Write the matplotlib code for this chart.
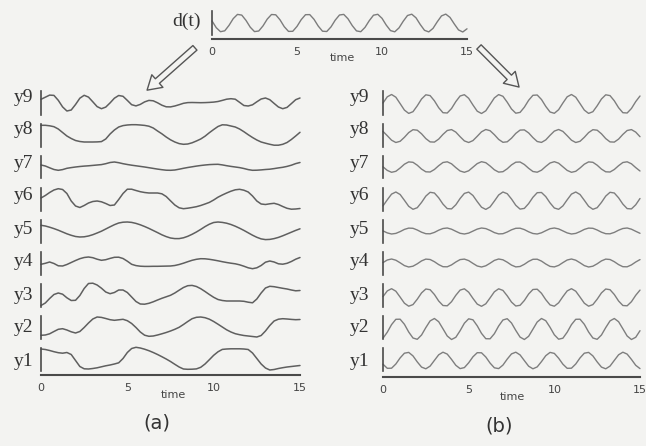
import numpy as np
import matplotlib
matplotlib.use("Agg")
import matplotlib.pyplot as plt
from matplotlib.patches import FancyArrowPatch

# ---------------- data (in pixel-sized units) ----------------
time_step = 0.25
time_ticks = [0, 5, 10, 15]
time_tick_labels = ["0", "5", "10", "15"]
row_names = ["y9", "y8", "y7", "y6", "y5", "y4", "y3", "y2", "y1"]
panel_titles = ["(a)", "(b)"]

d_t = [2.1, -4.7, -8.7, -7.8, -2.4, 4.4, 8.6, 7.9, 2.6, -4.2,
       -8.6, -8.0, -2.9, 3.9, 8.5, 8.2, 3.2, -3.7, -8.4, -8.3,
       -3.4, 3.4, 8.3, 8.4, 3.7, -3.1, -8.2, -8.5, -3.9, 2.9,
       8.0, 8.6, 4.2, -2.6, -7.9, -8.7, -4.4, 2.3, 7.8, 8.7,
       4.7, -2.1, -7.6, -8.8, -4.9, 1.8, 7.5, 8.8, 5.2, -1.5,
       -7.3, -8.9, -5.4, 1.2, 7.1, 8.9, 5.6, -0.9, -6.9, -9.0, -5.8]

# panel (a)
a_y9 = [3.7, 5.8, 7.9, 7.6, 2.7, -3.9, -8.0, -7.0, -1.5, 4.8,
        7.7, 5.9, 1.2, -3.6, -5.7, -4.1, 0.1, 4.8, 7.5, 6.7,
        2.6, -1.7, -2.9, -1.4, 1.1, 2.6, 2.2, 0.2, -2.2, -3.8,
        -3.9, -3.0, -1.7, -0.3, 0.4, 0.5, 0.4, 0.3, 0.4, 0.6,
        0.9, 1.5, 2.6, 3.8, 4.3, 3.8, 0.7, -2.5, -3.0, -1.8,
        1.2, 4.0, 5.0, 3.3, -0.4, -4.0, -5.7, -4.4, -0.6, 3.3, 5.0]
a_y8 = [9.7, 9.7, 9.2, 8.3, 6.0, 2.5, -1.0, -3.5, -5.5, -6.5,
        -7.0, -7.0, -7.0, -6.9, -6.6, -4.0, 1.0, 5.0, 8.0, 9.4,
        10.0, 10.3, 10.3, 10.0, 9.6, 8.8, 7.0, 4.0, 1.2, -2.0,
        -4.8, -7.0, -8.6, -9.3, -9.0, -7.8, -6.0, -4.0, -1.2, 2.3,
        5.5, 8.5, 10.2, 10.0, 9.0, 8.0, 6.0, 3.3, 0.3, -2.5,
        -5.0, -7.0, -8.2, -9.3, -10.2, -10.2, -9.3, -7.5, -4.5, -1.0, 2.7]
a_y7 = [2.0, 1.0, -0.8, -2.5, -3.3, -2.6, -1.3, -0.6, 0.0, 0.5,
        0.9, 1.2, 1.6, 2.0, 2.4, 3.3, 4.5, 5.0, 4.3, 3.3,
        2.5, 1.8, 1.2, 0.6, 0.0, -0.7, -1.4, -2.1, -2.7, -3.2,
        -3.3, -3.0, -2.2, -1.3, -0.5, 0.2, 0.9, 1.5, 2.0, 2.4,
        2.6, 2.7, 2.1, 1.3, 0.6, 0.0, -0.6, -1.5, -2.6, -3.3,
        -3.2, -2.9, -2.5, -2.2, -1.6, -0.9, -0.3, 0.6, 1.8, 3.4, 4.5]
a_y6 = [1.0, 3.5, 6.5, 9.0, 10.3, 9.5, 5.5, -2.0, -7.0, -8.5,
        -6.5, -4.0, -2.5, -2.0, -2.8, -4.5, -6.5, -6.0, -0.5, 5.5,
        9.8, 9.8, 8.5, 7.3, 6.5, 6.0, 6.0, 6.0, 5.2, 2.5,
        -1.8, -6.0, -8.8, -9.7, -9.2, -8.5, -7.7, -6.5, -5.0, -3.4,
        -1.0, 1.8, 4.0, 6.0, 7.8, 9.2, 9.7, 8.8, 7.0, 3.0,
        -2.0, -5.0, -5.5, -4.8, -4.3, -5.5, -7.5, -9.3, -10.2, -10.0, -9.5]
a_y5 = [5.7, 5.0, 3.8, 2.4, 0.8, -1.0, -2.8, -4.3, -5.5, -6.0,
        -5.8, -5.0, -3.7, -2.0, -0.2, 2.0, 4.2, 6.3, 8.0, 8.8,
        9.0, 8.6, 7.6, 6.2, 4.5, 2.6, 0.5, -1.6, -3.8, -5.6,
        -7.0, -7.6, -7.6, -6.8, -5.3, -3.3, -1.0, 1.6, 4.4, 6.8,
        8.5, 9.0, 8.6, 7.8, 6.5, 4.8, 2.8, 0.6, -1.8, -4.2,
        -6.3, -7.9, -8.6, -8.4, -7.6, -6.4, -4.8, -3.0, -1.2, 0.6, 2.2]
a_y4 = [-1.3, -0.3, 1.0, -0.5, -2.8, -3.0, -1.5, 0.5, 2.5, 4.3,
        5.5, 6.0, 5.3, 3.8, 2.7, 3.3, 4.6, 5.7, 5.8, 4.5,
        1.8, -1.3, -2.6, -3.2, -3.4, -3.4, -3.3, -3.3, -3.2, -3.1,
        -3.0, -2.5, -1.5, -0.2, 1.3, 2.7, 3.7, 4.3, 4.2, 3.7,
        3.0, 2.2, 1.3, 0.5, -0.2, -0.8, -1.8, -3.2, -4.8, -5.7,
        -4.8, -2.5, 0.8, 2.0, 1.0, -0.8, -1.2, -0.3, 1.5, 3.8, 5.5]
a_y3 = [-10.5, -8.0, -3.5, 0.5, 2.0, 0.8, -2.8, -5.5, -5.3, -0.5,
        6.5, 11.5, 11.8, 10.0, 6.8, 3.0, 1.3, 2.5, 5.0, 5.0,
        2.5, -2.0, -6.5, -9.0, -9.2, -8.3, -6.8, -5.0, -3.3, -1.8,
        -0.3, 2.0, 4.8, 7.5, 9.3, 9.6, 8.5, 6.3, 3.5, 0.5,
        -2.3, -4.5, -5.5, -6.0, -6.0, -6.0, -6.0, -6.3, -7.2, -7.8,
        -4.0, 2.0, 7.0, 8.7, 8.3, 7.5, 6.7, 6.0, 5.0, 4.2, 4.5]
a_y2 = [-8.3, -8.0, -6.8, -4.5, -2.3, -1.7, -3.0, -4.8, -6.0, -4.5,
        -0.5, 4.0, 8.0, 10.0, 9.6, 8.5, 7.3, 6.7, 7.2, 7.7,
        6.3, 3.5, -0.5, -5.0, -8.2, -9.3, -9.0, -8.0, -6.8, -5.5,
        -4.0, -2.3, -0.3, 2.5, 5.5, 8.3, 9.7, 10.0, 9.3, 7.8,
        5.5, 2.8, 0.0, -2.8, -5.0, -6.7, -7.7, -8.5, -9.0, -9.5,
        -10.0, -8.5, -4.0, 1.5, 6.0, 7.8, 8.3, 8.0, 7.6, 7.3, 7.5]
a_y1 = [10.0, 9.5, 8.5, 7.3, 6.3, 5.8, 6.5, 4.5, -1.5, -7.5,
        -9.8, -10.0, -9.5, -8.8, -7.8, -6.8, -6.0, -5.0, -3.8, 0.5,
        6.5, 10.5, 11.7, 11.0, 9.8, 8.3, 6.5, 4.5, 2.3, 0.0,
        -2.5, -5.3, -8.0, -10.0, -10.3, -10.2, -9.9, -8.3, -5.0, -0.7,
        3.7, 7.2, 9.6, 10.0, 10.2, 10.2, 10.2, 10.0, 9.5, 6.0,
        0.5, -5.0, -9.0, -11.0, -10.5, -9.5, -8.7, -8.0, -7.5, -7.0, -6.5]

# panel (b)
b_y9 = [0.0, 6.2, 8.5, 5.8, -0.6, -7.1, -10.4, -8.7, -2.8, 4.0,
        8.2, 7.4, 2.2, -4.7, -9.7, -10.0, -5.5, 1.4, 7.0, 8.3,
        4.7, -2.0, -8.2, -10.5, -7.8, -1.4, 5.1, 8.4, 6.7, 0.8,
        -6.0, -10.2, -9.4, -4.2, 2.7, 7.7, 8.0, 3.5, -3.4, -9.0,
        -10.3, -6.7, 0.0, 6.2, 8.5, 5.8, -0.6, -7.1, -10.4, -8.7,
        -2.8, 4.0, 8.2, 7.4, 2.2, -4.7, -9.7, -10.0, -5.5, 1.4, 7.0]
b_y8 = [3.6, -0.7, -5.2, -7.5, -6.3, -2.3, 2.4, 5.3, 4.8, 1.2,
        -3.6, -6.9, -7.1, -4.1, 0.6, 4.5, 5.4, 2.9, -1.7, -5.9,
        -7.5, -5.6, -1.3, 3.2, 5.5, 4.3, 0.3, -4.4, -7.3, -6.8,
        -3.2, 1.6, 4.9, 5.1, 2.1, -2.6, -6.5, -7.4, -4.9, -0.3,
        3.9, 5.5, 3.6, -0.7, -5.2, -7.5, -6.3, -2.3, 2.4, 5.3,
        4.8, 1.2, -3.6, -6.9, -7.1, -4.1, 0.6, 4.5, 5.4, 2.9, -1.7]
b_y7 = [0.2, -3.4, -5.3, -4.3, -1.0, 2.8, 5.1, 4.7, 1.8, -2.1,
        -4.8, -5.0, -2.5, 1.3, 4.5, 5.2, 3.2, -0.6, -4.0, -5.3,
        -3.8, -0.2, 3.4, 5.3, 4.3, 1.0, -2.8, -5.1, -4.7, -1.8,
        2.1, 4.8, 5.0, 2.5, -1.3, -4.5, -5.2, -3.2, 0.6, 4.0,
        5.3, 3.8, 0.2, -3.4, -5.3, -4.3, -1.0, 2.8, 5.1, 4.7,
        1.8, -2.1, -4.8, -5.0, -2.5, 1.3, 4.5, 5.2, 3.2, -0.6, -4.0]
b_y6 = [-6.9, -0.8, 4.9, 7.0, 4.5, -1.3, -7.3, -10.3, -8.7, -3.4,
        2.9, 6.7, 6.0, 1.2, -5.1, -9.6, -9.9, -5.8, 0.5, 5.6,
        6.9, 3.5, -2.6, -8.2, -10.4, -7.9, -2.1, 4.0, 7.0, 5.3,
        0.0, -6.3, -10.1, -9.4, -4.6, 1.7, 6.3, 6.5, 2.4, -3.9,
        -9.0, -10.3, -6.9, -0.8, 4.9, 7.0, 4.5, -1.3, -7.3, -10.3,
        -8.7, -3.4, 2.9, 6.7, 6.0, 1.2, -5.1, -9.6, -9.9, -5.8, 0.5]
b_y5 = [0.1, -1.9, -3.0, -2.4, -0.6, 1.6, 2.9, 2.7, 1.0, -1.2,
        -2.7, -2.8, -1.4, 0.8, 2.5, 3.0, 1.8, -0.3, -2.3, -3.0,
        -2.1, -0.1, 1.9, 3.0, 2.4, 0.6, -1.6, -2.9, -2.7, -1.0,
        1.2, 2.7, 2.8, 1.4, -0.8, -2.5, -3.0, -1.8, 0.3, 2.3,
        3.0, 2.1, 0.1, -1.9, -3.0, -2.4, -0.6, 1.6, 2.9, 2.7,
        1.0, -1.2, -2.7, -2.8, -1.4, 0.8, 2.5, 3.0, 1.8, -0.3, -2.3]
b_y4 = [0.4, 3.0, 4.0, 2.8, 0.2, -2.6, -4.0, -3.2, -0.8, 2.1,
        3.9, 3.5, 1.3, -1.6, -3.7, -3.8, -1.9, 1.0, 3.4, 3.9,
        2.4, -0.4, -3.0, -4.0, -2.8, -0.2, 2.6, 4.0, 3.2, 0.8,
        -2.1, -3.9, -3.5, -1.3, 1.6, 3.7, 3.8, 1.9, -1.0, -3.4,
        -3.9, -2.4, 0.4, 3.0, 4.0, 2.8, 0.2, -2.6, -4.0, -3.2,
        -0.8, 2.1, 3.9, 3.5, 1.3, -1.6, -3.7, -3.8, -1.9, 1.0, 3.4]
b_y3 = [-1.6, 4.1, 6.3, 3.8, -2.1, -8.2, -11.2, -9.6, -4.2, 2.1,
        6.0, 5.3, 0.5, -6.0, -10.5, -10.8, -6.7, -0.3, 4.9, 6.2,
        2.8, -3.4, -9.1, -11.3, -8.8, -2.9, 3.2, 6.2, 4.6, -0.8,
        -7.1, -11.0, -10.3, -5.5, 1.0, 5.5, 5.8, 1.7, -4.7, -9.9,
        -11.2, -7.8, -1.6, 4.1, 6.3, 3.8, -2.1, -8.2, -11.2, -9.6,
        -4.2, 2.1, 6.0, 5.3, 0.5, -6.0, -10.5, -10.8, -6.7, -0.3, 4.9]
b_y2 = [-11.2, -5.2, 2.4, 7.7, 7.8, 2.7, -5.0, -11.0, -12.3, -8.0,
        -0.6, 6.1, 8.5, 5.3, -1.8, -9.0, -12.5, -10.3, -3.7, 3.8,
        8.2, 7.2, 1.2, -6.4, -11.7, -11.8, -6.7, 1.0, 7.0, 8.3,
        4.0, -3.4, -10.1, -12.5, -9.3, -2.2, 5.0, 8.5, 6.3, -0.3,
        -7.8, -12.2, -11.2, -5.2, 2.4, 7.7, 7.8, 2.7, -5.0, -11.0,
        -12.3, -8.0, -0.6, 6.1, 8.5, 5.3, -1.8, -9.0, -12.5, -10.3, -3.7]
b_y1 = [-5.2, -9.3, -9.2, -5.0, 1.1, 5.8, 6.6, 3.1, -2.9, -8.1,
        -9.8, -7.1, -1.4, 4.2, 6.8, 4.9, -0.4, -6.3, -9.6, -8.6,
        -3.8, 2.2, 6.3, 6.2, 2.0, -4.1, -8.8, -9.6, -6.1, -0.1,
        5.1, 6.8, 4.1, -1.6, -7.2, -9.8, -7.9, -2.6, 3.3, 6.6,
        5.6, 0.8, -5.2, -9.3, -9.2, -5.0, 1.1, 5.8, 6.6, 3.1,
        -2.9, -8.1, -9.8, -7.1, -1.4, 4.2, 6.8, 4.9, -0.4, -6.3, -9.6]

panel_a = [a_y9, a_y8, a_y7, a_y6, a_y5, a_y4, a_y3, a_y2, a_y1]
panel_b = [b_y9, b_y8, b_y7, b_y6, b_y5, b_y4, b_y3, b_y2, b_y1]

# ---------------- layout / style ----------------
W, H = 646, 446
BG = "#f3f3f1"
AXC = "#4a4a4a"
TXT = "#333333"
SERIF = ["Liberation Serif", "DejaVu Serif"]

fig = plt.figure(figsize=(W / 100, H / 100), dpi=100, facecolor=BG)


def fx(px):
    return px / W


def fy(py):
    return 1 - py / H


def row_axes(x0, x1, cy, half=13, bar=11.5):
    ax = fig.add_axes([fx(x0), fy(cy + half), (x1 - x0) / W, 2 * half / H])
    ax.set_xlim(0, 15)
    ax.set_ylim(-half, half)
    ax.patch.set_alpha(0)
    for s in ["top", "right", "bottom"]:
        ax.spines[s].set_visible(False)
    ax.spines["left"].set_bounds(-bar, bar)
    ax.spines["left"].set_color(AXC)
    ax.spines["left"].set_linewidth(1.2)
    ax.set_xticks([])
    ax.set_yticks([])
    return ax


def time_axis(x0, x1, y):
    ax = fig.add_axes([fx(x0), fy(y), (x1 - x0) / W, 1.0 / H])
    ax.set_xlim(0, 15)
    ax.patch.set_alpha(0)
    for s in ["top", "right", "left"]:
        ax.spines[s].set_visible(False)
    ax.spines["bottom"].set_color(AXC)
    ax.spines["bottom"].set_linewidth(1.5)
    ax.set_yticks([])
    ax.set_xticks(time_ticks)
    ax.set_xticklabels(time_tick_labels, fontsize=8, color="#444444",
                       family="DejaVu Sans")
    ax.tick_params(axis="x", length=0, pad=6)
    return ax


def plot_series(ax, vals, color, lw):
    t = np.arange(len(vals)) * time_step
    ax.plot(t, vals, color=color, lw=lw, clip_on=False,
            solid_joinstyle="round", solid_capstyle="round")


# d(t) strip
ax_d = row_axes(212, 467, 23, half=13, bar=12.5)
plot_series(ax_d, d_t, "#7c7c7c", 1.0)
time_axis(212, 467, 39)
fig.text(fx(201), fy(21), "d(t)", ha="right", va="center", fontsize=14,
         family=SERIF, color=TXT)
fig.text(fx(342), fy(58), "time", ha="center", va="center", fontsize=8,
         family="DejaVu Sans", color="#444444")

# panels
row_cy = [103 + 32 * k for k in range(9)]
label_y = [97 + 33 * k for k in range(9)]
panels = [
    dict(x0=41, x1=300, lab_x=33, axis_y=375, time_x=173, time_y=395,
         title_x=157, title_y=423, data=panel_a, color="#5f5f5f", lw=1.1),
    dict(x0=383, x1=640, lab_x=369, axis_y=377, time_x=512, time_y=397,
         title_x=499, title_y=426, data=panel_b, color="#7e7e7e", lw=1.0),
]
for p, title in zip(panels, panel_titles):
    for name, vals, cy, ly in zip(row_names, p["data"], row_cy, label_y):
        ax = row_axes(p["x0"], p["x1"], cy)
        plot_series(ax, vals, p["color"], p["lw"])
        fig.text(fx(p["lab_x"]), fy(ly), name, ha="right", va="center",
                 fontsize=14, family=SERIF, color=TXT)
    time_axis(p["x0"], p["x1"], p["axis_y"])
    fig.text(fx(p["time_x"]), fy(p["time_y"]), "time", ha="center",
             va="center", fontsize=8, family="DejaVu Sans", color="#444444")
    fig.text(fx(p["title_x"]), fy(p["title_y"]), title, ha="center",
             va="center", fontsize=14, family="DejaVu Sans", color=TXT)

# hollow arrows from d(t) to each panel
for (xa, ya), (xb, yb) in [((197, 46), (145, 92)), ((477, 45), (521, 89))]:
    arr = FancyArrowPatch((fx(xa), fy(ya)), (fx(xb), fy(yb)),
                          transform=fig.transFigure,
                          arrowstyle="simple,head_length=0.9,head_width=1.1,tail_width=0.4",
                          mutation_scale=11, fc=BG, ec="#555555", lw=1.0)
    fig.add_artist(arr)

fig.savefig("out.png", dpi=100, facecolor=BG)
